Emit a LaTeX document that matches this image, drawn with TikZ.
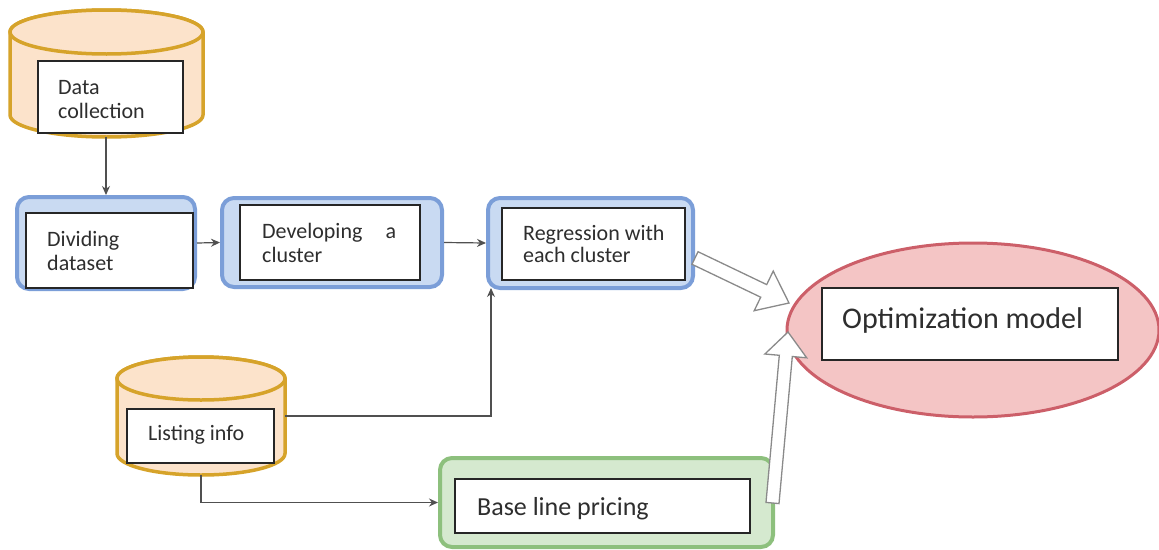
\documentclass[tikz,border=0pt]{standalone}
\usepackage{fontspec}
\setmainfont{Carlito}
\usetikzlibrary{arrows.meta,shapes.geometric}
\definecolor{cylfill}{HTML}{FCE3CB}
\definecolor{cyldraw}{HTML}{D6A32A}
\definecolor{bluefill}{HTML}{C9DAF2}
\definecolor{bluedraw}{HTML}{7B9ED8}
\definecolor{greenfill}{HTML}{D5E9CF}
\definecolor{greendraw}{HTML}{8DC07D}
\definecolor{redfill}{HTML}{F4C5C5}
\definecolor{reddraw}{HTML}{CC5F69}
\definecolor{txt}{HTML}{2E2E2E}
\definecolor{conn}{HTML}{505050}
\definecolor{hollow}{HTML}{8A8A8A}
\tikzset{
  outerblue/.style={draw=bluedraw, fill=bluefill, line width=4pt, rounded corners=12pt, inner sep=0pt},
  outergreen/.style={draw=greendraw, fill=greenfill, line width=4pt, rounded corners=12pt, inner sep=0pt},
  innerbox/.style={draw=black!85, fill=white, line width=1.3pt, inner sep=0pt},
  lbl/.style={anchor=base west, inner sep=0pt, align=left, text=txt, font=\fontsize{22}{24}\selectfont},
  arr/.style={draw=conn, line width=1.2pt, -{Stealth[length=9pt,width=8pt]}},
  blockarrow/.style={draw=hollow, fill=white, line width=1.3pt, line join=miter},
  cyl/.style={draw=cyldraw, fill=cylfill, line width=3.5pt},
}
\begin{document}
\begin{tikzpicture}[x=1pt,y=-1pt]
\useasboundingbox (0,0) rectangle (1159,549);

% ---- Data collection cylinder
\path[cyl] (10,32) -- (10,115) arc[start angle=180,end angle=0,x radius=96.5,y radius=22]
  -- (203,32) arc[start angle=0,end angle=-180,x radius=96.5,y radius=22] -- cycle;
\draw[cyl] (106.5,32) ellipse [x radius=96.5, y radius=22];
\node[minimum width=193pt, minimum height=127pt, inner sep=0pt] (dcyl) at (106.5,73.5) {};
\node[innerbox, minimum width=145pt, minimum height=72pt] (dcbox) at (110.5,97) {};
\node[lbl] (dctext) at (58,118) {Data\\collection};

% ---- Listing info cylinder
\path[cyl] (117,378.5) -- (117,453.5) arc[start angle=180,end angle=0,x radius=84,y radius=21.5]
  -- (285,378.5) arc[start angle=0,end angle=-180,x radius=84,y radius=21.5] -- cycle;
\draw[cyl] (201,378.5) ellipse [x radius=84, y radius=21.5];
\node[minimum width=168pt, minimum height=118pt, inner sep=0pt] (lcyl) at (201,416) {};
\node[innerbox, minimum width=147pt, minimum height=54pt] (lbox) at (200.5,436) {};
\node[lbl] (ltext) at (148,440) {Listing info};

% ---- Dividing dataset
\node[outerblue, minimum width=178pt, minimum height=92pt] (divO) at (106,243) {};
\node[innerbox, minimum width=167pt, minimum height=75pt] (divbox) at (109.5,250.5) {};
\node[lbl] (divtext) at (47,270) {Dividing\\dataset};

% ---- Developing a cluster
\node[outerblue, minimum width=220pt, minimum height=89pt] (devO) at (332,242.5) {};
\node[innerbox, minimum width=180pt, minimum height=75pt] (devbox) at (330,242.5) {};
\node[lbl] (devtext) at (262,262) {\hbox to 134pt{Developing\hfill a}\\cluster};

% ---- Regression with each cluster
\node[outerblue, minimum width=205pt, minimum height=90pt] (regO) at (590.5,243) {};
\node[innerbox, minimum width=183pt, minimum height=72pt] (regbox) at (593.5,244) {};
\node[lbl, font=\fontsize{22}{22}\selectfont] (regtext) at (523,262) {Regression with\\each cluster};

% ---- Base line pricing
\node[outergreen, minimum width=333pt, minimum height=89pt] (baseO) at (606.5,502.5) {};
\node[innerbox, minimum width=295pt, minimum height=54pt] (basebox) at (602.5,506) {};
\node[lbl, font=\fontsize{26}{30}\selectfont] (basetext) at (477,515) {Base line pricing};

% ---- Optimization model
\node[draw=reddraw, fill=redfill, line width=3pt, ellipse, minimum width=372pt, minimum height=174pt, inner sep=0pt] (optO) at (973,330) {};
\node[innerbox, minimum width=296pt, minimum height=72pt] (optbox) at (970,324) {};
\node[lbl, font=\fontsize{30}{34}\selectfont] (opttext) at (842,328) {Optimization model};

% ---- connectors
\draw[arr] (divO.north |- dcyl.south) -- (divO.north);
\draw[arr] (divO.east) -- (devO.west);
\draw[arr] (devO.east) -- (regO.west);
\draw[arr] (lcyl.east) -| ([xshift=5pt,yshift=2pt]regO.south west);
\draw[arr] (lcyl.south) |- (baseO.west);

% ---- hollow block arrows
\draw[blockarrow] (692.0,264.3) -- (698.0,251.7) -- (766.7,284.6) -- (773.2,271.1)
  -- (789,303) -- (754.2,310.7) -- (760.7,297.2) -- cycle;
\draw[blockarrow] (766.0,502.4) -- (779.0,503.6) -- (792.3,356.5) -- (806.7,357.8)
  -- (788,332) -- (764.9,354.0) -- (779.3,355.3) -- cycle;
\end{tikzpicture}
\end{document}
